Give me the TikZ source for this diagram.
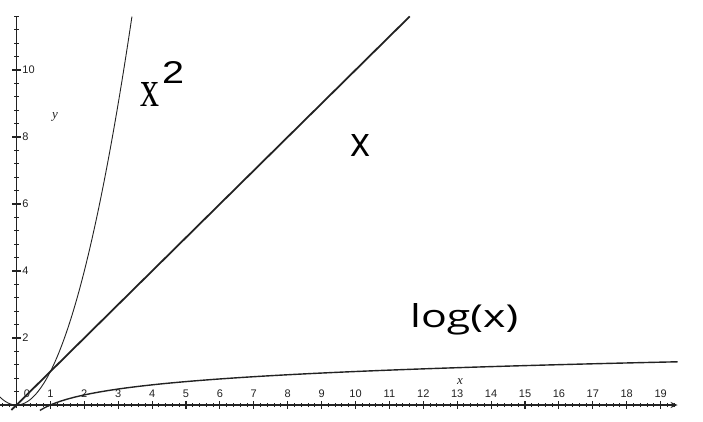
\documentclass[tikz,border=0pt]{standalone}
\usepackage{fontspec}
\setmainfont{Liberation Sans}
\newfontfamily\osans{Open Sans}
\newfontfamily\lserif{Liberation Serif}
\usetikzlibrary{arrows.meta}
\definecolor{ink}{HTML}{222222}
\tikzset{
  axisline/.style={draw=ink, line width=1.4pt},
  minortick/.style={draw=ink, line width=1.0pt},
  majortick/.style={draw=ink, line width=1.1pt},
  ticklabel/.style={font=\fontsize{11}{13}\selectfont, text=ink, inner sep=0pt},
  axislabel/.style={font=\lserif\itshape\fontsize{13}{15}\selectfont, text=ink, inner sep=0pt},
  biglabel/.style={inner sep=0pt, anchor=base west, text=black},
  thincurve/.style={draw=ink, line width=0.9pt},
  thickcurve/.style={draw=ink, line width=1.8pt},
  midcurve/.style={draw=ink, line width=1.4pt}
}
\begin{document}
\begin{tikzpicture}[x=33.9pt,y=33.5pt]
\useasboundingbox (-0.4867,-0.4776) rectangle (20.2503,12.0896);
% axes
\coordinate (xstart) at (-0.4867,0);
\coordinate (xend) at (19.5,0);
\coordinate (ystart) at (0,-0.1);
\coordinate (yend) at (0,11.6);
\draw[axisline,-{Stealth[length=7pt,width=6pt]}] (xstart) -- (xend);
\draw[axisline] (ystart) -- (yend);
% x ticks
\foreach \i in {-2,...,97} {
  \draw[minortick] (\i*0.2,-0.06) -- (\i*0.2,0.06);
}
\foreach \i in {1,...,19} {
  \draw[majortick] (\i,-0.11) -- (\i,0.11);
  \node[ticklabel] (xl\i) at (\i,0.33) {\i};
}
\node[ticklabel] (xl0) at (0.31,0.33) {0};
% y ticks
\foreach \i in {1,...,29} {
  \draw[minortick] (-0.065,\i*0.4) -- (0.065,\i*0.4);
}
\foreach \i in {2,4,...,10} {
  \draw[majortick] (-0.13,\i) -- (0.13,\i);
  \node[ticklabel,anchor=west] (yl\i) at (0.17,\i) {\i};
}
% axis labels
\node[axislabel] (ylab) at (1.136,8.597) {y};
\node[axislabel] (xlab) at (13.083,0.716) {x};
% curves
\draw[thincurve, domain=-0.49:3.406, samples=120] plot (\x,{\x*\x});
\draw[thickcurve] (-0.15,-0.15) -- (11.6,11.6);
\draw[midcurve, domain=0.69:19.5, samples=150] plot (\x,{log10(\x)});
% big labels
\node[biglabel] (sqx) at (3.643,8.896) {\resizebox{19pt}{24pt}{\lserif x}};
\node[biglabel,anchor=south west] (sqtwo) at (4.292,9.582) {\resizebox{22pt}{22pt}{2}};
\node[biglabel] (linx) at (9.838,7.433) {\resizebox{20pt}{22pt}{\osans x}};
\node[biglabel] (logx) at (11.608,2.328) {\resizebox{108pt}{24pt}{\osans log(x)}};
\end{tikzpicture}
\end{document}
